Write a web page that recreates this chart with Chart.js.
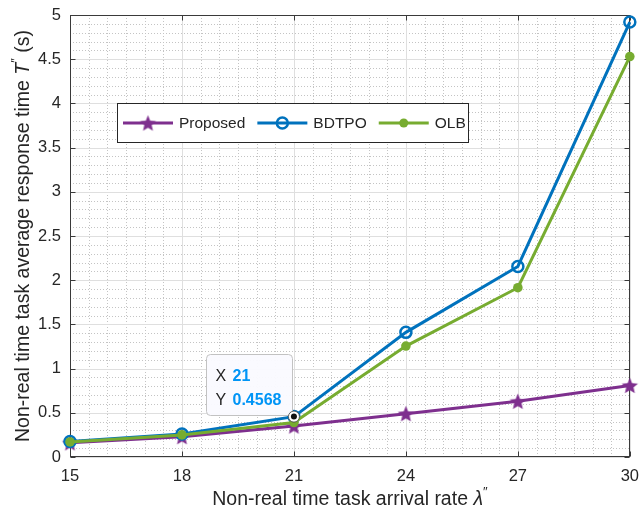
<!DOCTYPE html>
<html>
<head>
<meta charset="utf-8">
<style>
html, body { margin: 0; padding: 0; background: #fff; }
</style>
</head>
<body>
<canvas id="chart" width="641" height="517"></canvas>

<script src="https://cdn.jsdelivr.net/npm/chart.js"></script>
<script>
// data
const arrivalRates = [15, 18, 21, 24, 27, 30];
const proposed = [0.16, 0.23, 0.35, 0.49, 0.63, 0.81];
const bdtpo = [0.175, 0.26, 0.4568, 1.41, 2.155, 4.92];
const olb = [0.17, 0.25, 0.39, 1.255, 1.915, 4.53];
const seriesNames = ["Proposed", "BDTPO", "OLB"];
const xTickValues = [15, 18, 21, 24, 27, 30];
const yTickStep = 0.5;
const xMinorStep = 0.5;
const yMinorStep = 0.1;
const tipIndex = 2; // datatip on BDTPO at x = 21

const FONT = '"Liberation Sans", Arial, Helvetica, sans-serif';
const TXT = "#262626";
const PURPLE = "#7E2F8E", BLUE = "#0072BD", GREEN = "#77AC30";

function makeStar(r, color) {
  const c = document.createElement("canvas");
  const s = Math.ceil(r * 2 + 2);
  c.width = c.height = s;
  const g = c.getContext("2d");
  g.beginPath();
  for (let i = 0; i < 10; i++) {
    const rad = i % 2 ? r * 0.45 : r;
    const a = -Math.PI / 2 + i * Math.PI / 5;
    g.lineTo(s / 2 + rad * Math.cos(a), s / 2 + 0.8 + rad * Math.sin(a));
  }
  g.closePath();
  g.fillStyle = color;
  g.fill();
  return c;
}
const star = makeStar(8.5, PURPLE);

function toPoints(ys) {
  return arrivalRates.map((x, i) => ({ x, y: ys[i] }));
}

// draws a row of text parts (normal / italic / superscript)
function drawParts(ctx, parts, cx, baseline) {
  let total = 0;
  parts.forEach(p => {
    ctx.font = p.font;
    p.w = ctx.measureText(p.t).width;
    total += p.w;
  });
  let x = cx - total / 2;
  parts.forEach(p => {
    ctx.font = p.font;
    ctx.fillText(p.t, x, baseline - (p.rise || 0));
    x += p.w;
  });
}

const decorations = {
  id: "decorations",
  beforeDatasetsDraw(chart) {
    const { ctx, chartArea: a, scales: { x: xs, y: ys } } = chart;
    ctx.save();
    ctx.lineWidth = 1;

    // minor grid, dotted
    ctx.strokeStyle = "#c4c4c4";
    ctx.setLineDash([1, 2]);
    for (let k = 0; 15 + k * xMinorStep <= 30 + 1e-9; k++) {
      const v = 15 + k * xMinorStep;
      if (xTickValues.includes(v)) continue;
      const px = Math.round(xs.getPixelForValue(v)) + 0.5;
      ctx.beginPath(); ctx.moveTo(px, a.top); ctx.lineTo(px, a.bottom); ctx.stroke();
    }
    for (let k = 0; k <= 50; k++) {
      if (k % 5 === 0) continue;
      const py = Math.round(ys.getPixelForValue(k * yMinorStep)) + 0.5;
      ctx.beginPath(); ctx.moveTo(a.left, py); ctx.lineTo(a.right, py); ctx.stroke();
    }

    // major grid
    ctx.setLineDash([]);
    ctx.strokeStyle = "#dfdfdf";
    xTickValues.forEach(v => {
      const px = Math.round(xs.getPixelForValue(v)) + 0.5;
      ctx.beginPath(); ctx.moveTo(px, a.top); ctx.lineTo(px, a.bottom); ctx.stroke();
    });
    ys.ticks.forEach(t => {
      const py = Math.round(ys.getPixelForValue(t.value)) + 0.5;
      ctx.beginPath(); ctx.moveTo(a.left, py); ctx.lineTo(a.right, py); ctx.stroke();
    });

    // box and inward ticks
    ctx.strokeStyle = "#3a3a3a";
    const L = Math.round(a.left) + 0.5, R = Math.round(a.right) - 0.5;
    const T = Math.round(a.top) + 0.5, B = Math.round(a.bottom) - 0.5;
    ctx.strokeRect(L, T, R - L, B - T);
    ctx.beginPath();
    xTickValues.forEach(v => {
      const px = Math.round(xs.getPixelForValue(v)) + 0.5;
      ctx.moveTo(px, B); ctx.lineTo(px, B - 5);
      ctx.moveTo(px, T); ctx.lineTo(px, T + 5);
    });
    ys.ticks.forEach(t => {
      const py = Math.round(ys.getPixelForValue(t.value)) + 0.5;
      ctx.moveTo(L, py); ctx.lineTo(L + 5, py);
      ctx.moveTo(R, py); ctx.lineTo(R - 5, py);
    });
    ctx.stroke();
    ctx.restore();
  },

  afterDatasetsDraw(chart) {
    const { ctx, scales: { x: xs, y: ys } } = chart;
    ctx.save();

    // legend
    const lx = 117.5, ly = 103.5, lw = 351, lh = 39;
    ctx.fillStyle = "#fff";
    ctx.fillRect(lx, ly, lw, lh);
    ctx.strokeStyle = "#262626";
    ctx.lineWidth = 1;
    ctx.strokeRect(lx, ly, lw, lh);
    const cy = ly + lh / 2;
    const colors = [PURPLE, BLUE, GREEN];
    ctx.font = "15.5px " + FONT;
    ctx.textBaseline = "middle";
    let x = lx + 5.5;
    seriesNames.forEach((name, i) => {
      ctx.strokeStyle = colors[i];
      ctx.lineWidth = 3;
      ctx.beginPath(); ctx.moveTo(x, cy); ctx.lineTo(x + 50, cy); ctx.stroke();
      const mx = x + 25;
      if (i === 0) {
        ctx.drawImage(star, mx - star.width / 2, cy - star.height / 2);
      } else if (i === 1) {
        ctx.lineWidth = 2.5;
        ctx.beginPath(); ctx.arc(mx, cy, 5.5, 0, Math.PI * 2); ctx.stroke();
      } else {
        ctx.fillStyle = GREEN;
        ctx.beginPath(); ctx.arc(mx, cy, 4.5, 0, Math.PI * 2); ctx.fill();
      }
      ctx.fillStyle = TXT;
      ctx.fillText(name, x + 56, cy + 1);
      x += 56 + ctx.measureText(name).width + 12;
    });

    // datatip
    const px = xs.getPixelForValue(arrivalRates[tipIndex]);
    const py = ys.getPixelForValue(bdtpo[tipIndex]);
    const bw = 86, bh = 61;
    const bx = Math.round(px - 2 - bw) + 0.5, by = Math.round(py - 2 - bh) + 0.5;
    ctx.fillStyle = "rgba(250,250,255,0.96)";
    ctx.strokeStyle = "#c2c2c2";
    ctx.lineWidth = 1;
    ctx.beginPath();
    if (ctx.roundRect) ctx.roundRect(bx, by, bw, bh, 4); else ctx.rect(bx, by, bw, bh);
    ctx.fill(); ctx.stroke();
    ctx.textBaseline = "alphabetic";
    ctx.font = "16px " + FONT;
    ctx.fillStyle = TXT;
    ctx.fillText("X", bx + 9, by + 26);
    ctx.fillText("Y", bx + 9, by + 50);
    ctx.font = "bold 16px " + FONT;
    ctx.fillStyle = "#0095F6";
    ctx.fillText(String(arrivalRates[tipIndex]), bx + 26, by + 26);
    ctx.fillText(String(bdtpo[tipIndex]), bx + 26, by + 50);

    ctx.fillStyle = "#fff";
    ctx.strokeStyle = "#444";
    ctx.lineWidth = 0.8;
    ctx.beginPath(); ctx.arc(px, py, 5.5, 0, Math.PI * 2); ctx.fill(); ctx.stroke();
    ctx.fillStyle = "#111";
    ctx.beginPath(); ctx.arc(px, py, 3, 0, Math.PI * 2); ctx.fill();
    ctx.restore();
  },

  afterDraw(chart) {
    const { ctx, chartArea: a } = chart;
    ctx.save();
    ctx.fillStyle = TXT;
    ctx.textBaseline = "alphabetic";
    const f = "19.5px " + FONT, fi = "italic 19.5px " + FONT, fs = "13px " + FONT;
    drawParts(ctx, [
      { t: "Non-real time task arrival rate ", font: f },
      { t: "\u03bb", font: fi },
      { t: "\u2033", font: fs, rise: 9 }
    ], (a.left + a.right) / 2, 505);

    ctx.translate(29, (a.top + a.bottom) / 2);
    ctx.rotate(-Math.PI / 2);
    drawParts(ctx, [
      { t: "Non-real time task average response time ", font: f },
      { t: "T", font: fi },
      { t: "\u2033", font: fs, rise: 9 },
      { t: " (s)", font: f }
    ], 0, 0);
    ctx.restore();
  }
};

new Chart(document.getElementById("chart"), {
  type: "line",
  data: {
    datasets: [
      {
        label: seriesNames[0],
        data: toPoints(proposed),
        borderColor: PURPLE,
        borderWidth: 3,
        pointStyle: star,
        order: 3,
        clip: false
      },
      {
        label: seriesNames[1],
        data: toPoints(bdtpo),
        borderColor: BLUE,
        borderWidth: 3,
        pointRadius: 5.5,
        pointBorderWidth: 2.5,
        pointBorderColor: BLUE,
        pointBackgroundColor: "rgba(0,0,0,0)",
        order: 2,
        clip: false
      },
      {
        label: seriesNames[2],
        data: toPoints(olb),
        borderColor: GREEN,
        borderWidth: 3,
        pointRadius: 4.8,
        pointBorderWidth: 0,
        pointBackgroundColor: GREEN,
        order: 1,
        clip: false
      }
    ]
  },
  plugins: [decorations],
  options: {
    responsive: false,
    animation: false,
    events: [],
    layout: { padding: { top: 15, right: 11, left: 0, bottom: 0 } },
    plugins: { legend: { display: false }, tooltip: { enabled: false } },
    scales: {
      x: {
        type: "linear",
        min: 15,
        max: 30,
        afterBuildTicks: s => { s.ticks = xTickValues.map(v => ({ value: v })); },
        afterFit: s => { s.height = 60; },
        grid: { display: false },
        border: { display: false },
        ticks: {
          autoSkip: false,
          maxRotation: 0,
          padding: 2,
          color: TXT,
          font: { family: FONT, size: 16.5 },
          callback: v => String(v)
        }
      },
      y: {
        min: 0,
        max: 5,
        afterFit: s => { s.width = 70; },
        grid: { display: false },
        border: { display: false },
        ticks: {
          stepSize: yTickStep,
          padding: 1,
          color: TXT,
          font: { family: FONT, size: 16.5 },
          callback: v => String(v)
        }
      }
    }
  }
});
</script>
</body>
</html>
